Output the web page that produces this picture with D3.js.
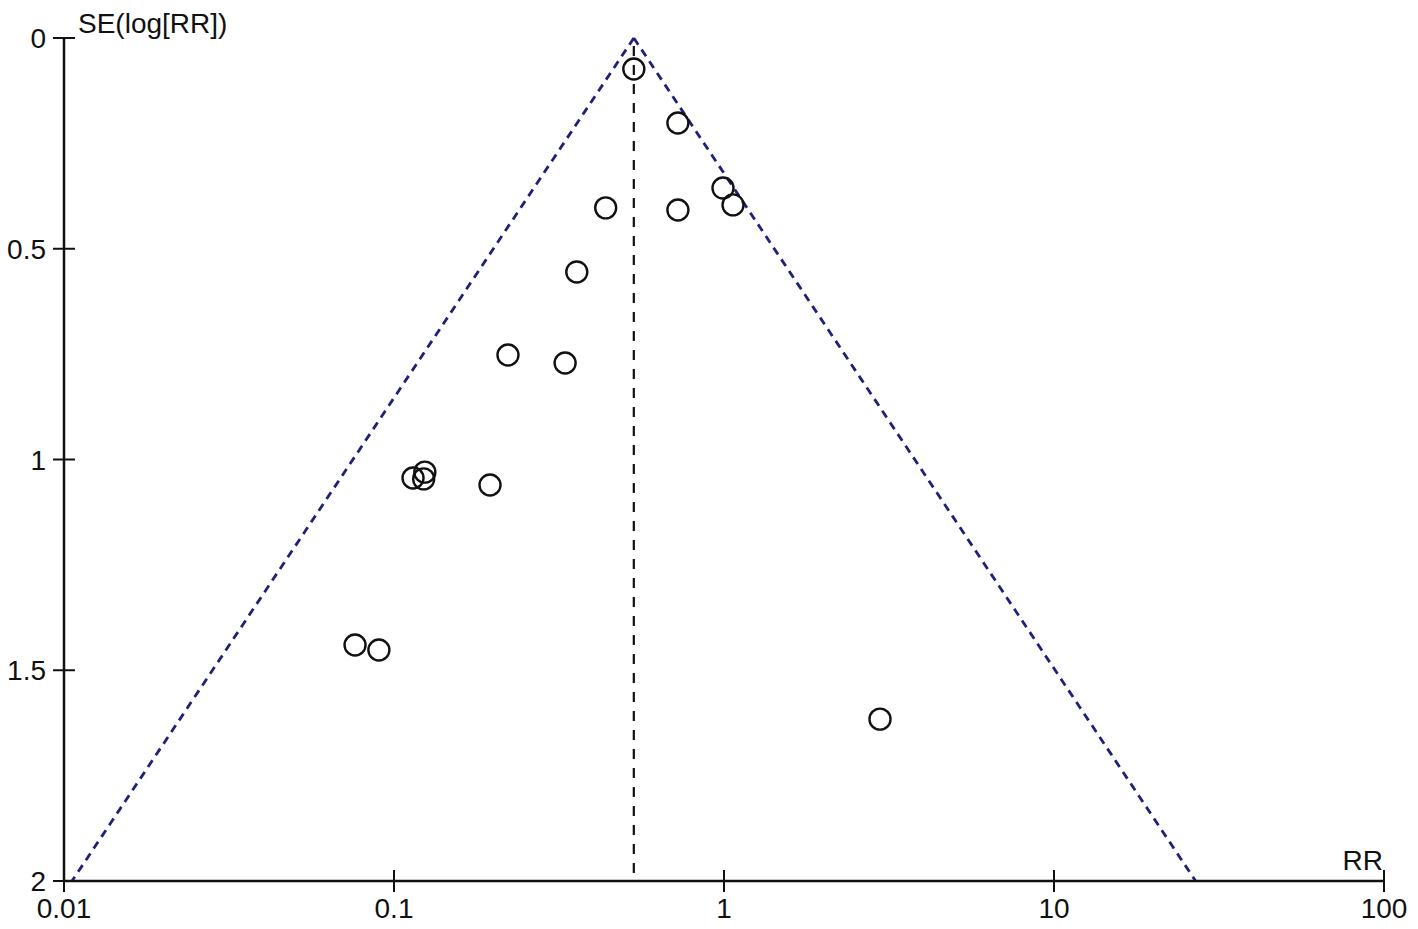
<!DOCTYPE html>
<html><head><meta charset="utf-8">
<script src="https://cdn.jsdelivr.net/npm/d3@7"></script>
<style>body{margin:0;background:#fff}text{font-family:"Liberation Sans",Arial,sans-serif;fill:#111}</style>
</head><body><svg id="c" width="1418" height="929"></svg>
<script>
const rr = [0.533,0.725,0.993,1.065,0.438,0.725,0.358,0.2215,0.33,0.1142,0.124,0.123,0.1954,0.0762,0.090,2.97];
const se = [0.0735,0.2017,0.356,0.396,0.403,0.408,0.555,0.752,0.771,1.044,1.030,1.046,1.0605,1.44,1.452,1.616];
const pooledRR = 0.533;
const xTicks = [0.01,0.1,1,10,100];
const xTickLabels = ["0.01","0.1","1","10","100"];
const yTicks = [0,0.5,1,1.5,2];
const yTickLabels = ["0","0.5","1","1.5","2"];

const svg = d3.select("#c");
const x = d3.scaleLog().domain([0.01,100]).range([64,1384]);
const y = d3.scaleLinear().domain([0,2]).range([38,881]);

const z = 1.96;
const lg = Math.log(pooledRR);
const funnelL = [[0,pooledRR],[2,Math.exp(lg - z*2)]];
const funnelR = [[0,pooledRR],[2,Math.exp(lg + z*2)]];
const line = d3.line().x(d=>x(d[1])).y(d=>y(d[0]));
[funnelL,funnelR].forEach(f=>{
  svg.append("path").attr("d",line(f)).attr("fill","none").attr("stroke","#202078").attr("stroke-width",2.8).attr("stroke-dasharray","8,6");
});
svg.append("line").attr("x1",x(pooledRR)).attr("x2",x(pooledRR)).attr("y1",y(0)+8).attr("y2",y(2))
  .attr("stroke","#111").attr("stroke-width",2.2).attr("stroke-dasharray","10,9");

// axes
const g = svg.append("g");
g.append("line").attr("x1",x(0.01)).attr("x2",x(0.01)).attr("y1",y(0)).attr("y2",y(2)).attr("stroke","#111").attr("stroke-width",2.5);
g.append("line").attr("x1",x(0.01)).attr("x2",x(100)).attr("y1",y(2)).attr("y2",y(2)).attr("stroke","#111").attr("stroke-width",2.5);
yTicks.forEach((t,i)=>{
  g.append("line").attr("x1",x(0.01)-11).attr("x2",x(0.01)+11).attr("y1",y(t)).attr("y2",y(t)).attr("stroke","#111").attr("stroke-width",2);
  g.append("text").attr("x",x(0.01)-18).attr("y",y(t)+10).attr("text-anchor","end").style("font-size","28px").text(yTickLabels[i]);
});
xTicks.forEach((t,i)=>{
  g.append("line").attr("x1",x(t)).attr("x2",x(t)).attr("y1",y(2)-11).attr("y2",y(2)+11).attr("stroke","#111").attr("stroke-width",2);
  g.append("text").attr("x",x(t)).attr("y",918).attr("text-anchor","middle").style("font-size","28px").text(xTickLabels[i]);
});
svg.append("text").attr("x",78).attr("y",33).style("font-size","28px").text("SE(log[RR])");
svg.append("text").attr("x",1383).attr("y",870).attr("text-anchor","end").style("font-size","28px").text("RR");

svg.append("g").selectAll("circle").data(rr.map((r,i)=>[r,se[i]])).join("circle")
  .attr("cx",d=>x(d[0])).attr("cy",d=>y(d[1])).attr("r",10.5)
  .attr("fill","none").attr("stroke","#111").attr("stroke-width",2.4);
</script></body></html>
